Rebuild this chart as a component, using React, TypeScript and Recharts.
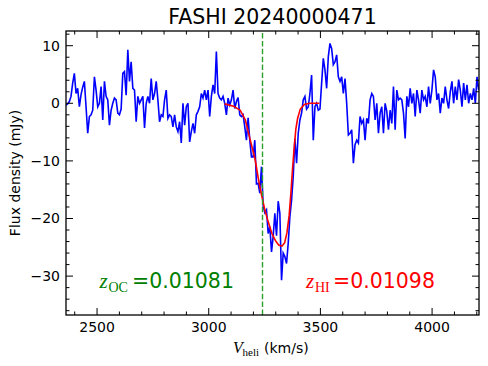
import React from 'react';
import { LineChart, Line, XAxis, YAxis, ReferenceLine } from 'recharts';

// spectrum channels: first channel velocity and channel width (km/s)
const V_START = 2361;
const V_STEP = 7.48;

// observed flux density per channel (mJy)
const FLUX = [
  -0.3, -0.1, 0.3, 1.2, 3.5, 5.2, 1.7, 2.6, -0.6, 1.5, 2.8, 3.8,
  -0.6, -5.2, -2.3, -2.0, -1.2,
  4.6, 2.3, -0.6, 0, 2.9, -2.9, 3.8, 1.2, 0.6, -3.8, -1.2, 0, 0.9, 0.6, -1.7, -2.0, -1.0,
  5.2, 5.5, 1.4, 9.3, 3.8, 7.2, 2.6, 2.3, -3.2,
  1.2, 0, 0.6, 1.2, -4.3,
  0, 1.2, 0, 4.3, 0.6, 1.7, 3.8, 0.6, -3.2,
  -2.0, -2.3, 0.6, 2.3, -2.6, -2.0, -2.3, -4.1, -2.0, -4.1, -4.9, -3.2, -6.9,
  0, -3.8, -0.6, 0, -6.7, -4.9, -3.5, -5.2, -2.0,
  -1.4, -0.6, 1.7, 0.9, 2.3, 0.6, 2.3, -2.3, 1.2, 3.2, 1.7, 9.0,
  1.7, 0.9, 0.6, 1.2, 0, -2.0, 0.9, -0.3, 0.6, 2.3, -0.9, 0.3, 1.0, -2.0, -2.3, -2.0, -4.1, -6.4, -2.5, -6.4, -9.3, -9.3, -6.4,
  -14.0, -13.9, -15.6, -11.0, -17.8, -19.0, -18.5, -22.6, -21.4, -25.8, -23.1, -19.1,
  -23.0, -17.0, -19.1, -30.7, -26.0, -26.6, -27.8, -24.3, -19.7, -16.8,
  -12.7, -6.1, -10.4, -5.2, -2.9, -1.7, 0.6, 1.2, -1.0, -0.6,
  1.7, 4.9, -6.4, -0.6, 0, -1.2, -1.0, 3.5, 7.8, 5.8,
  2.6, 8.1, 10.4, 9.5, 6.7, 7.2, 8.4, 4.6, 3.8, 4.6,
  1.7, 4.3, 0, -5.5,
  -5.2, -4.6, -10.4, -7.2, -6.4, -6.9, -2.3, -3.5, -2.9, -6.4,
  -2.6, -3.5, 0.6, 1.7, 1.2, -2.9, 0, -5.2, -1.7, -0.6,
  -5.2, 0, -1.4, -4.6, -1.2, -3.5, 2.9, -4.6, 2.3, 0.6,
  0.9, 0.6, -1.7, -6.1, 1.2, -0.6, 2.6, 0, 1.7, -2.3,
  2.3, 0.6, -1.7, 2.3, 0.6, 1.2, -0.6, 2.9, 0, 2.3,
  5.8, 4.6, 0.6, 1.7, -1.7, 0.9, 0, 2.9, 0.6, -0.9,
  2.0, 3.8, 0, 2.9, 0.6, 4.1, 2.3, -0.6, 3.5, 0.6,
  3.2, 0, 1.7, 0.6, 2.6, 0, 4.6, 2.3,
];

// fitted HI profile
const FIT_V = [3071, 3111, 3141, 3164, 3186, 3208, 3223, 3238, 3253, 3268, 3283, 3298, 3313, 3328,
  3340, 3350, 3360, 3368, 3375, 3383, 3390, 3398, 3410, 3428, 3450, 3496];
const FIT_F = [-0.1, -0.5, -1.2, -2.9, -6.4, -9.8, -13.3, -16.2, -18.8, -20.8, -22.6, -23.8, -24.6, -24.8,
  -24.2, -22.5, -19.5, -15.5, -11.5, -7.5, -4.5, -2.6, -1.0, -0.2, 0, 0];

const Z_OC = 0.01081;
const Z_HI = 0.01098;
const C_KMS = 299792.458;

const X_DOMAIN = [2361, 4210];
const Y_DOMAIN = [-36.75, 12.55];
const X_MAJOR = [2500, 3000, 3500, 4000];
const X_MINOR = [2400, 2500, 2600, 2700, 2800, 2900, 3000, 3100, 3200, 3300, 3400, 3500, 3600, 3700, 3800, 3900, 4000, 4100, 4200];
const Y_MAJOR = [-30, -20, -10, 0, 10];
const Y_MINOR = [-36, -34, -32, -30, -28, -26, -24, -22, -20, -18, -16, -14, -12, -10, -8, -6, -4, -2, 0, 2, 4, 6, 8, 10, 12];

const SANS = '"DejaVu Sans", sans-serif';
const SERIF = '"Liberation Serif", "DejaVu Serif", serif';

// plot box (matplotlib axes)
const PLOT = { left: 66, top: 31, width: 413, height: 284 };

const spectrum = FLUX.map((f, i) => ({ v: V_START + i * V_STEP, f }));
const fit = FIT_V.map((v, i) => ({ v, f: FIT_F[i] }));

const fmtTick = (t: number) => (t < 0 ? `\u2212${Math.abs(t)}` : `${t}`);

// inward ticks on bottom + top, label only on majors
function XTick(props: any) {
  const { x, y, payload } = props;
  const major = X_MAJOR.includes(payload.value);
  const len = major ? 7 : 3.5;
  const top = y - PLOT.height;
  return (
    <g>
      <line x1={x} x2={x} y1={y} y2={y - len} stroke="#000" strokeWidth={1} />
      <line x1={x} x2={x} y1={top} y2={top + len} stroke="#000" strokeWidth={1} />
      {major && (
        <text x={x} y={y + 7} dy="0.71em" textAnchor="middle" fontFamily={SANS} fontSize={14} fill="#000">
          {fmtTick(payload.value)}
        </text>
      )}
    </g>
  );
}

// inward ticks on left + right
function YTick(props: any) {
  const { x, y, payload } = props;
  const major = Y_MAJOR.includes(payload.value);
  const len = major ? 7 : 3.5;
  const right = x + PLOT.width;
  return (
    <g>
      <line x1={x} x2={x + len} y1={y} y2={y} stroke="#000" strokeWidth={1} />
      <line x1={right} x2={right - len} y1={y} y2={y} stroke="#000" strokeWidth={1} />
      {major && (
        <text x={x - 6} y={y} dy="0.355em" textAnchor="end" fontFamily={SANS} fontSize={14} fill="#000">
          {fmtTick(payload.value)}
        </text>
      )}
    </g>
  );
}

export default function App() {
  return (
    <div style={{ position: 'absolute', left: 0, top: 0, width: 488, height: 366, background: '#fff' }}>
      <LineChart width={488} height={366} margin={{ top: 31, right: 9, bottom: 21, left: 8 }}>
        <XAxis
          dataKey="v"
          type="number"
          domain={X_DOMAIN}
          allowDataOverflow
          ticks={X_MINOR}
          interval={0}
          height={30}
          tickSize={0}
          tickMargin={0}
          tickLine={false}
          axisLine={false}
          tick={<XTick />}
        />
        <YAxis
          type="number"
          domain={Y_DOMAIN}
          allowDataOverflow
          ticks={Y_MINOR}
          interval={0}
          width={58}
          tickSize={0}
          tickMargin={0}
          tickLine={false}
          axisLine={false}
          tick={<YTick />}
        />

        <Line data={spectrum} dataKey="f" type="linear" stroke="#0000ff" strokeWidth={1.6}
          dot={false} activeDot={false} isAnimationActive={false} />
        <Line data={fit} dataKey="f" type="linear" stroke="#ff0000" strokeWidth={1.6}
          dot={false} activeDot={false} isAnimationActive={false} />
        <ReferenceLine x={Z_OC * C_KMS} stroke="#2ca02c" strokeWidth={1.4} strokeDasharray="5.5 2.4" />
      </LineChart>

      <svg width={488} height={366} style={{ position: 'absolute', left: 0, top: 0, pointerEvents: 'none' }}>
        <rect x={PLOT.left} y={PLOT.top} width={PLOT.width} height={PLOT.height} fill="none" stroke="#000" strokeWidth={1.3} />

        <text x={272.5} y={24} textAnchor="middle" fontFamily={SANS} fontSize={20.5} fill="#000">
          FASHI 20240000471
        </text>
        <text transform="rotate(-90)" x={-173} y={19.5} textAnchor="middle" fontFamily={SANS} fontSize={14} fill="#000">
          Flux density (mJy)
        </text>

        <text x={233} y={353} fontFamily={SERIF} fontStyle="italic" fontSize={16} fill="#000">V</text>
        <text x={242.5} y={356} fontFamily={SERIF} fontSize={11} fill="#000">heli</text>
        <text x={264} y={353} fontFamily={SANS} fontSize={14} fill="#000">(km/s)</text>

        <text x={99.5} y={288} fontFamily={SERIF} fontStyle="italic" fontSize={21} fill="#008000">z</text>
        <text x={108.5} y={292} fontFamily={SERIF} fontSize={14} fill="#008000">OC</text>
        <text x={132} y={288} fontFamily={SANS} fontSize={20.5} fill="#008000">
          ={Z_OC.toFixed(5)}
        </text>

        <text x={306} y={288} fontFamily={SERIF} fontStyle="italic" fontSize={21} fill="#ff0000">z</text>
        <text x={315} y={292} fontFamily={SERIF} fontSize={14} fill="#ff0000">HI</text>
        <text x={333} y={288} fontFamily={SANS} fontSize={20.5} fill="#ff0000">
          ={Z_HI.toFixed(5)}
        </text>
      </svg>
    </div>
  );
}
